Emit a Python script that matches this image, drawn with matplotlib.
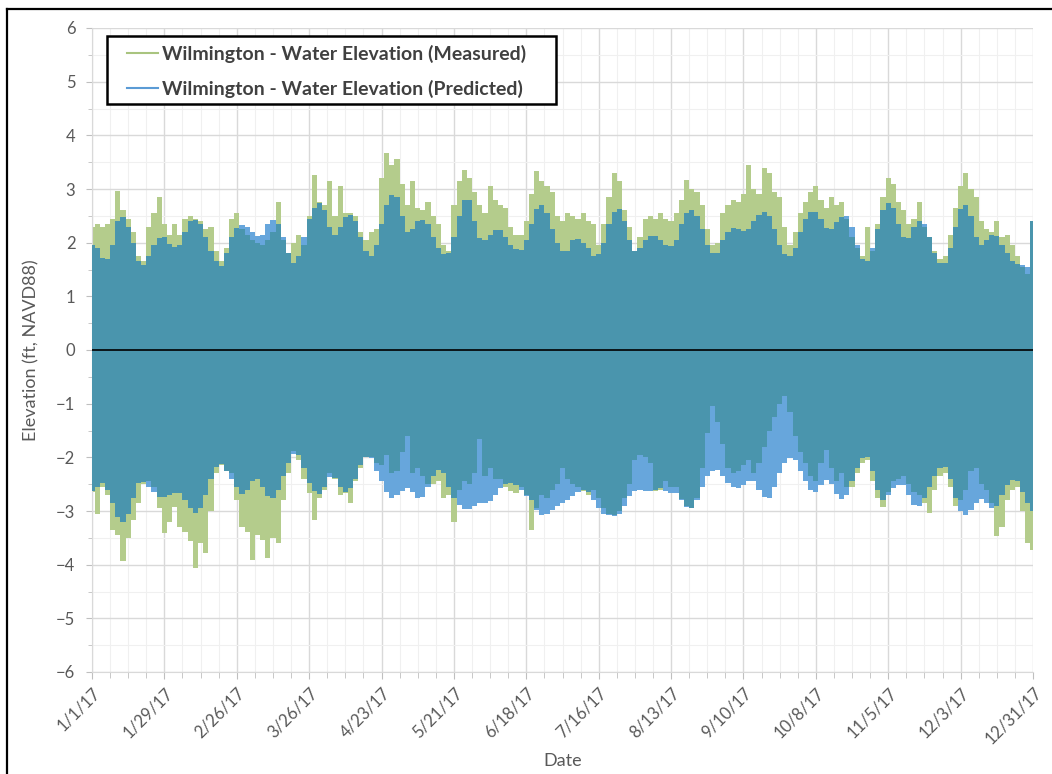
import numpy as np
import pandas as pd
import matplotlib
matplotlib.use("Agg")
import matplotlib.pyplot as plt
from matplotlib.lines import Line2D
from matplotlib.patches import Rectangle
from matplotlib.ticker import MultipleLocator

# Daily tidal envelope (every second day of 2017), ft NAVD88
dates = pd.date_range("2017-01-01", periods=183, freq="2D")

predicted_high = [
    1.95, 1.90, 1.72, 1.70, 1.95, 2.40, 2.48, 2.30, 2.00, 1.65,
    1.58, 1.75, 1.95, 2.08, 2.10, 1.98, 1.92, 1.95, 2.20, 2.40,
    2.43, 2.35, 2.10, 1.85, 1.65, 1.56, 1.80, 2.10, 2.28, 2.33,
    2.30, 2.20, 2.13, 2.15, 2.35, 2.42, 2.35, 2.10, 1.80, 1.62,
    1.75, 2.10, 2.45, 2.65, 2.74, 2.60, 2.30, 2.15, 2.30, 2.48,
    2.52, 2.40, 2.10, 1.85, 1.75, 1.95, 2.35, 2.70, 2.88, 2.85,
    2.50, 2.20, 2.25, 2.40, 2.43, 2.35, 2.10, 1.90, 1.78, 1.80,
    2.10, 2.50, 2.80, 2.80, 2.40, 2.08, 2.05, 2.15, 2.24, 2.24,
    2.10, 1.95, 1.88, 1.87, 2.05, 2.35, 2.62, 2.71, 2.55, 2.25,
    2.00, 1.85, 1.85, 2.05, 2.07, 2.00, 1.90, 1.76, 1.78, 2.00,
    2.35, 2.58, 2.63, 2.40, 2.05, 1.84, 1.90, 2.05, 2.12, 2.12,
    2.05, 1.95, 1.93, 2.05, 2.35, 2.55, 2.61, 2.50, 2.25, 1.95,
    1.80, 1.80, 2.05, 2.20, 2.27, 2.25, 2.21, 2.25, 2.40, 2.52,
    2.57, 2.50, 2.25, 1.95, 1.78, 1.75, 1.90, 2.20, 2.45, 2.57,
    2.58, 2.45, 2.28, 2.25, 2.38, 2.48, 2.49, 2.30, 1.95, 1.70,
    1.66, 1.90, 2.25, 2.60, 2.73, 2.65, 2.35, 2.10, 2.08, 2.30,
    2.40, 2.35, 2.10, 1.80, 1.62, 1.62, 1.90, 2.30, 2.62, 2.71,
    2.50, 2.10, 1.95, 2.05, 2.15, 2.12, 1.95, 1.80, 1.65, 1.60,
    1.58, 1.55, 2.40,
]

predicted_low = [
    -2.62, -2.55, -2.48, -2.60, -2.85, -3.12, -3.20, -3.05, -2.75, -2.48,
    -2.46, -2.55, -2.65, -2.73, -2.74, -2.70, -2.66, -2.67, -2.80, -2.95,
    -3.03, -2.95, -2.70, -2.40, -2.18, -2.12, -2.25, -2.40, -2.55, -2.68,
    -2.60, -2.45, -2.40, -2.55, -2.72, -2.76, -2.60, -2.35, -2.10, -1.93,
    -1.95, -2.20, -2.48, -2.62, -2.68, -2.55, -2.36, -2.38, -2.55, -2.65,
    -2.58, -2.40, -2.15, -1.99, -2.02, -2.25, -2.45, -2.65, -2.76, -2.70,
    -2.62, -2.58, -2.65, -2.75, -2.74, -2.55, -2.35, -2.24, -2.30, -2.55,
    -2.76, -2.88, -2.97, -2.96, -2.90, -2.86, -2.86, -2.82, -2.70, -2.58,
    -2.50, -2.48, -2.52, -2.60, -2.72, -2.80, -2.98, -3.08, -3.05, -2.98,
    -2.90, -2.86, -2.80, -2.72, -2.64, -2.61, -2.65, -2.80, -2.95, -3.05,
    -3.08, -3.10, -3.05, -2.90, -2.72, -2.62, -2.61, -2.62, -2.62, -2.60,
    -2.58, -2.62, -2.66, -2.67, -2.80, -2.92, -2.95, -2.80, -2.55, -2.35,
    -2.25, -2.23, -2.35, -2.48, -2.55, -2.58, -2.52, -2.45, -2.45, -2.60,
    -2.74, -2.75, -2.55, -2.30, -2.10, -2.02, -2.05, -2.25, -2.45, -2.60,
    -2.64, -2.52, -2.43, -2.50, -2.68, -2.78, -2.70, -2.45, -2.20, -2.02,
    -2.00, -2.25, -2.60, -2.79, -2.70, -2.58, -2.52, -2.51, -2.70, -2.88,
    -2.90, -2.75, -2.55, -2.35, -2.20, -2.18, -2.40, -2.75, -3.00, -3.08,
    -2.98, -2.85, -2.78, -2.85, -2.95, -2.90, -2.70, -2.52, -2.43, -2.45,
    -2.65, -2.85, -3.00,
]

measured_high = [
    2.30, 2.35, 2.30, 2.35, 2.45, 2.96, 2.60, 2.45, 2.20, 1.75,
    1.65, 2.30, 2.55, 2.85, 2.35, 2.15, 2.35, 2.15, 2.45, 2.50,
    2.45, 2.40, 2.25, 2.30, 1.85, 1.65, 1.90, 2.45, 2.55, 2.25,
    2.15, 2.05, 2.00, 1.95, 2.05, 2.20, 2.75, 2.05, 1.80, 2.00,
    2.15, 1.95, 2.50, 3.27, 2.75, 2.70, 3.15, 2.50, 3.05, 2.55,
    2.55, 2.50, 2.20, 2.05, 2.20, 2.25, 3.20, 3.67, 3.45, 3.55,
    3.10, 2.70, 3.15, 2.65, 2.60, 2.75, 2.50, 2.35, 1.95, 1.85,
    2.70, 3.15, 3.36, 3.20, 2.95, 2.70, 2.55, 3.05, 2.80, 2.70,
    2.65, 2.30, 2.15, 2.15, 2.40, 2.90, 3.33, 3.15, 3.05, 2.95,
    2.50, 2.40, 2.55, 2.50, 2.45, 2.55, 2.40, 2.35, 1.95, 2.35,
    2.85, 3.30, 3.15, 2.60, 2.30, 1.85, 2.10, 2.45, 2.50, 2.45,
    2.55, 2.45, 2.40, 2.55, 2.80, 3.17, 3.00, 2.95, 2.70, 2.25,
    1.95, 2.00, 2.55, 2.70, 2.80, 2.75, 2.90, 3.45, 3.00, 2.90,
    3.40, 3.30, 2.95, 2.85, 2.30, 1.95, 2.20, 2.55, 2.75, 2.95,
    3.05, 2.80, 2.65, 2.85, 2.70, 2.75, 2.45, 2.10, 1.90, 1.75,
    2.30, 1.85, 2.35, 2.85, 3.20, 3.10, 2.75, 2.60, 2.35, 2.45,
    2.75, 2.30, 2.10, 1.85, 1.70, 1.75, 2.15, 2.65, 3.05, 3.30,
    3.00, 2.85, 2.40, 2.25, 2.20, 2.40, 2.10, 2.15, 1.95, 1.75,
    1.55, 1.42, 2.40,
]

measured_low = [
    -2.65, -3.05, -2.55, -2.70, -3.35, -3.45, -3.94, -3.50, -3.17, -2.85,
    -2.50, -2.45, -2.55, -2.95, -3.41, -3.20, -2.92, -3.29, -3.40, -3.55,
    -4.07, -3.60, -3.79, -3.00, -2.30, -2.14, -2.25, -2.30, -2.79, -3.30,
    -3.40, -3.91, -3.45, -3.54, -3.88, -3.50, -3.60, -2.80, -2.30, -1.89,
    -2.05, -2.40, -2.67, -3.17, -2.75, -2.61, -2.30, -2.40, -2.70, -2.67,
    -2.86, -2.45, -2.20, -1.99, -2.00, -2.10, -2.15, -1.95, -2.30, -2.25,
    -1.90, -1.60, -2.30, -2.20, -2.35, -2.50, -2.50, -2.45, -2.75, -2.70,
    -3.20, -2.60, -2.45, -2.50, -2.30, -1.65, -2.35, -2.20, -2.40, -2.40,
    -2.55, -2.62, -2.67, -2.55, -2.70, -3.35, -2.95, -2.70, -2.75, -2.60,
    -2.50, -2.20, -2.40, -2.50, -2.55, -2.63, -2.70, -2.60, -2.75, -2.95,
    -3.05, -3.08, -3.00, -2.75, -2.50, -2.05, -1.95, -2.00, -2.10, -2.62,
    -2.61, -2.45, -2.55, -2.55, -2.78, -2.90, -2.95, -2.75, -2.20, -1.55,
    -1.05, -1.35, -1.75, -2.20, -2.30, -2.25, -2.15, -2.05, -2.30, -2.10,
    -1.80, -1.50, -1.25, -1.00, -0.85, -1.15, -1.60, -1.90, -2.10, -2.35,
    -2.45, -2.10, -1.86, -2.20, -2.45, -2.30, -2.55, -2.55, -2.30, -2.10,
    -2.05, -2.45, -2.75, -2.92, -2.65, -2.45, -2.40, -2.35, -2.50, -2.65,
    -2.70, -2.85, -3.04, -2.60, -2.35, -2.30, -2.55, -2.90, -2.80, -2.60,
    -2.25, -2.20, -2.50, -2.60, -2.85, -3.47, -3.29, -2.80, -2.61, -2.55,
    -3.00, -3.60, -3.72,
]

tick_dates = pd.date_range("2017-01-01", "2017-12-31", freq="28D")
tick_labels = [f"{d.month}/{d.day}/17" for d in tick_dates]

GREEN = "#B4CC8C"
GREEN_LINE = "#A9C47F"
BLUE = "#67A6DC"
BLUE_LINE = "#5B9BD5"
OVERLAP = "#4A95AD"
TEXT = "#595959"

W, H = 1052, 774

ph = np.array(predicted_high)
pl = np.array(predicted_low)
mh = np.array(measured_high)
ml = np.array(measured_low)

fig = plt.figure(figsize=(W / 100, H / 100), dpi=100)
ax = fig.add_axes([92 / W, 1 - 672 / H, 941 / W, 644 / H])

ax.fill_between(dates, ml, mh, step="mid", color=GREEN, lw=0, zorder=2)
ax.fill_between(dates, pl, ph, step="mid", color=BLUE, lw=0, zorder=3)
ax.fill_between(dates, np.maximum(ml, pl), np.minimum(mh, ph), step="mid",
                color=OVERLAP, lw=0, zorder=4)
ax.axhline(0, color="black", lw=1.2, zorder=5)

ax.set_xlim(tick_dates[0], tick_dates[-1])
ax.set_ylim(-6, 6)
ax.yaxis.set_major_locator(MultipleLocator(1))
ax.yaxis.set_minor_locator(MultipleLocator(0.5))
ax.set_xticks(tick_dates)
ax.set_xticklabels(tick_labels)
ax.set_xticks(pd.date_range("2017-01-01", "2017-12-31", freq="7D"), minor=True)

ax.grid(which="major", color="#D9D9D9", lw=1.0, zorder=0)
ax.grid(which="minor", color="#F0F0F0", lw=0.8, zorder=0)
ax.set_axisbelow(True)
for side in ["top", "right"]:
    ax.spines[side].set_visible(False)
ax.spines["left"].set_color("#D9D9D9")
ax.spines["bottom"].set_color("#D9D9D9")

ax.tick_params(axis="y", which="major", length=4, color="#BFBFBF",
               labelsize=12, labelcolor=TEXT, pad=8)
ax.tick_params(axis="y", which="minor", length=3, color="#BFBFBF")
ax.tick_params(axis="x", which="major", length=5, color="#BFBFBF",
               labelsize=12, labelcolor=TEXT, pad=4)
ax.tick_params(axis="x", which="minor", length=4, color="#BFBFBF")
for lbl in ax.get_xticklabels():
    lbl.set_rotation(45)
    lbl.set_ha("right")
    lbl.set_rotation_mode("anchor")
for lbl in ax.get_xticklabels() + ax.get_yticklabels():
    lbl.set_fontfamily("Lato")

ax.set_ylabel("Elevation (ft, NAVD88)", fontsize=13, color=TEXT,
              family="Lato", labelpad=12)
ax.set_xlabel("Date", fontsize=13, color=TEXT, family="Lato", labelpad=4)

# legend box
ax.add_patch(Rectangle((107 / W, 1 - 104 / H), 449 / W, 68 / H,
                       transform=fig.transFigure, facecolor="white",
                       edgecolor="black", lw=1.8, zorder=9, clip_on=False))
handles = [Line2D([], [], color=GREEN_LINE, lw=1.5),
           Line2D([], [], color=BLUE_LINE, lw=1.5)]
labels = ["Wilmington - Water Elevation (Measured)",
          "Wilmington - Water Elevation (Predicted)"]
leg = ax.legend(handles, labels, loc="upper left",
                bbox_to_anchor=(127 / W, 1 - 45 / H),
                bbox_transform=fig.transFigure, borderaxespad=0,
                frameon=False, borderpad=0,
                prop={"family": "Lato", "weight": "bold", "size": 14},
                handlelength=1.6, handletextpad=0.2, labelspacing=0.85)
for t in leg.get_texts():
    t.set_color("#404040")
leg.set_zorder(10)

# outer frame
fig.add_artist(Line2D([6.5 / W, 6.5 / W], [0, 1 - 9 / H],
                      color="black", lw=1.6, transform=fig.transFigure))
fig.add_artist(Line2D([6.5 / W, 1], [1 - 9 / H, 1 - 9 / H],
                      color="black", lw=1.6, transform=fig.transFigure))

fig.savefig("out.png", dpi=100, facecolor="white")
